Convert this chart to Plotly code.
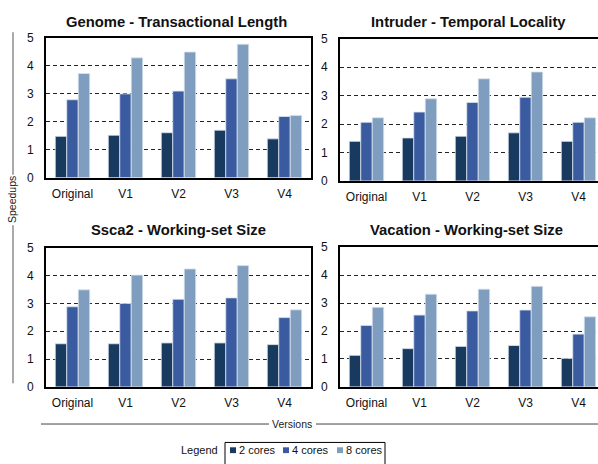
import plotly.graph_objects as go

W, H = 598, 464

versions = ["Original", "V1", "V2", "V3", "V4"]
core_names = ["2 cores", "4 cores", "8 cores"]
core_colors = ["#173a5e", "#3a5ba0", "#7f9dbe"]

genome_2 = [1.48, 1.52, 1.61, 1.70, 1.39]
genome_4 = [2.79, 3.00, 3.10, 3.54, 2.19]
genome_8 = [3.73, 4.29, 4.50, 4.78, 2.23]

intruder_2 = [1.39, 1.51, 1.57, 1.69, 1.39]
intruder_4 = [2.06, 2.42, 2.76, 2.94, 2.06]
intruder_8 = [2.22, 2.89, 3.59, 3.83, 2.22]

ssca2_2 = [1.55, 1.55, 1.58, 1.58, 1.52]
ssca2_4 = [2.88, 3.00, 3.15, 3.20, 2.49]
ssca2_8 = [3.49, 4.02, 4.24, 4.36, 2.77]

vacation_2 = [1.13, 1.37, 1.45, 1.48, 1.02]
vacation_4 = [2.20, 2.57, 2.72, 2.75, 1.89]
vacation_8 = [2.85, 3.32, 3.50, 3.60, 2.51]

panel_titles = [
    "Genome - Transactional Length",
    "Intruder - Temporal Locality",
    "Ssca2 - Working-set Size",
    "Vacation - Working-set Size",
]
panel_series = [
    [genome_2, genome_4, genome_8],
    [intruder_2, intruder_4, intruder_8],
    [ssca2_2, ssca2_4, ssca2_8],
    [vacation_2, vacation_4, vacation_8],
]


def px(x):
    return x / W


def py(y):
    return 1 - y / H


# panel boxes in pixels: left, right, top, bottom
boxes = [
    (46, 311, 32, 176),
    (340, 605, 32.7, 179.3),
    (46, 311, 248.3, 391.7),
    (340, 605, 247.7, 391.7),
]
title_pos = [(176, 15), (468, 15), (178, 230), (466, 230)]

FONT = "Arial, Liberation Sans, Helvetica, sans-serif"

fig = go.Figure()
layout = dict(
    width=W,
    height=H,
    margin=dict(l=0, r=0, t=0, b=0),
    paper_bgcolor="white",
    plot_bgcolor="white",
    barmode="group",
    bargap=0.35,
    bargroupgap=0,
    showlegend=False,
    font=dict(family=FONT, size=12, color="#111"),
)

annotations = []
shapes = []

for i, (series, title, box) in enumerate(zip(panel_series, panel_titles, boxes)):
    n = i + 1
    xa = "x" if n == 1 else f"x{n}"
    ya = "y" if n == 1 else f"y{n}"
    left, right, top, bottom = box
    pitch = (right - left) / 5.0
    x_end = -0.5 + (min(right, W) - left) / pitch
    for vals, name, col in zip(series, core_names, core_colors):
        fig.add_trace(go.Bar(
            x=versions, y=vals, name=name,
            marker=dict(color=col, line=dict(color="#dbe3ee", width=0.8)),
            xaxis=xa, yaxis=ya, showlegend=False,
        ))
    clipped = right > W
    layout["xaxis" if n == 1 else f"xaxis{n}"] = dict(
        domain=[px(left), min(1.0, px(right))],
        range=[-0.5, x_end],
        type="category",
        showline=True, linewidth=2, linecolor="black", mirror=True,
        showgrid=False, ticks="", ticklabelstandoff=4,
        tickfont=dict(size=12, family=FONT, color="#111"),
        anchor=ya, fixedrange=True,
    )
    layout["yaxis" if n == 1 else f"yaxis{n}"] = dict(
        domain=[py(bottom), py(top)],
        range=[0, 5],
        tickvals=[0, 1, 2, 3, 4, 5],
        showline=True, linewidth=2, linecolor="black",
        mirror=False if clipped else True,
        showgrid=True, gridcolor="#222", gridwidth=1, griddash="4px,3px",
        zeroline=False, ticks="", ticklabelstandoff=8,
        tickfont=dict(size=12, family=FONT, color="#111"),
        anchor=xa, fixedrange=True,
    )
    tx, ty = title_pos[i]
    annotations.append(dict(
        x=px(tx), y=py(ty), xref="paper", yref="paper",
        text=f"<b>{title}</b>", showarrow=False,
        xanchor="center", yanchor="middle",
        font=dict(size=14.8, family=FONT, color="#111"),
    ))

# shared y-axis title with rule
sp_y = 199
annotations.append(dict(
    x=px(12), y=py(sp_y), xref="paper", yref="paper", text="Speedups",
    textangle=-90, showarrow=False, xanchor="center", yanchor="middle",
    font=dict(size=10.5, family=FONT, color="#222"),
))
shapes.append(dict(type="line", xref="paper", yref="paper",
                   x0=px(13), x1=px(13), y0=py(26), y1=py(sp_y - 26),
                   line=dict(color="#555", width=1)))
shapes.append(dict(type="line", xref="paper", yref="paper",
                   x0=px(13), x1=px(13), y0=py(sp_y + 26), y1=py(388),
                   line=dict(color="#555", width=1)))

# shared x-axis title with rule
annotations.append(dict(
    x=px(292), y=py(430), xref="paper", yref="paper", text="Versions",
    showarrow=False, xanchor="center", yanchor="middle",
    font=dict(size=10.5, family=FONT, color="#222"),
))
shapes.append(dict(type="line", xref="paper", yref="paper",
                   x0=px(41), x1=px(269), y0=py(430), y1=py(430),
                   line=dict(color="#444", width=1)))
shapes.append(dict(type="line", xref="paper", yref="paper",
                   x0=px(316), x1=px(598), y0=py(430), y1=py(430),
                   line=dict(color="#444", width=1)))

# legend box
annotations.append(dict(
    x=px(220), y=py(457), xref="paper", yref="paper", text="Legend",
    showarrow=False, xanchor="right", yanchor="middle",
    font=dict(size=11, family=FONT, color="#111"),
))
shapes.append(dict(type="rect", xref="paper", yref="paper",
                   x0=px(225), x1=px(385), y0=py(449), y1=py(472),
                   line=dict(color="black", width=1), fillcolor="rgba(0,0,0,0)"))
leg_x = [230, 283, 337]
for lx, name, col in zip(leg_x, core_names, core_colors):
    shapes.append(dict(type="rect", xref="paper", yref="paper",
                       x0=px(lx), x1=px(lx + 6), y0=py(454), y1=py(460),
                       line=dict(width=0), fillcolor=col))
    annotations.append(dict(
        x=px(lx + 6.5), y=py(457), xref="paper", yref="paper", text=name,
        showarrow=False, xanchor="left", yanchor="middle",
        font=dict(size=11, family=FONT, color="#111"),
    ))

layout["annotations"] = annotations
layout["shapes"] = shapes
fig.update_layout(**layout)
fig.write_html("out.html")
